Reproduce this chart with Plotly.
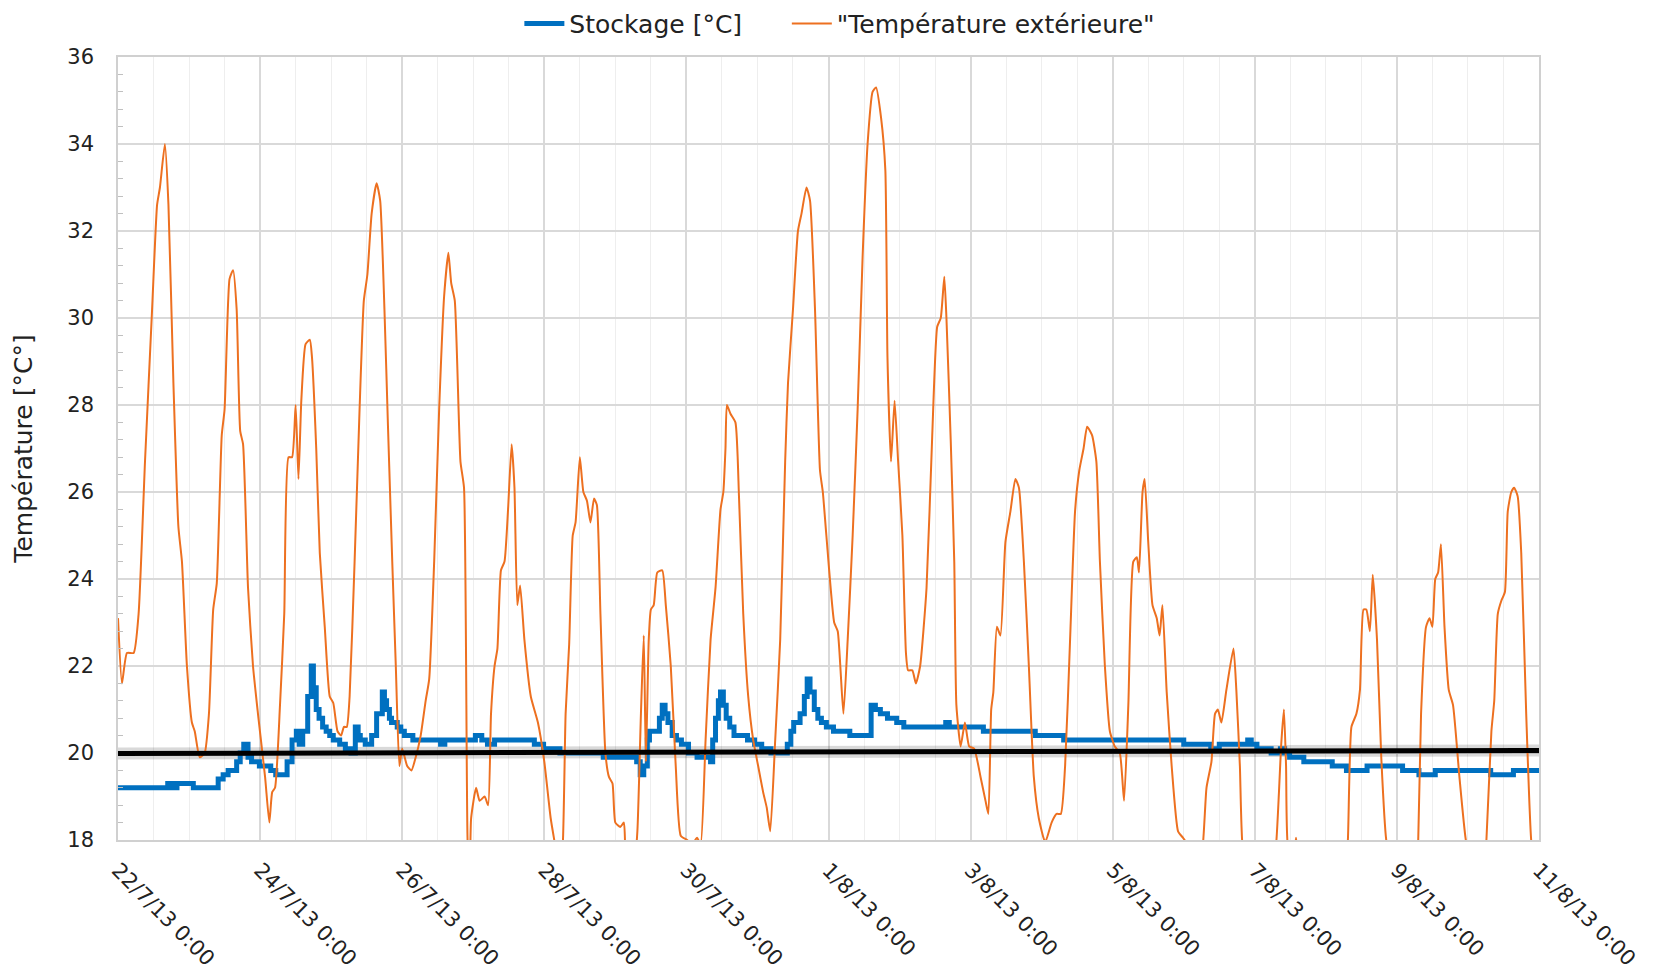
import pandas as pd
import plotly.graph_objects as go

start = pd.Timestamp("2013-07-22 00:00")

# outside temperature, time in days from 22/7/13 0:00
ext_days = [0, 0.056, 0.126, 0.22, 0.29, 0.38, 0.48, 0.55, 0.59, 0.66, 0.71, 0.78, 0.85, 0.9, 0.97,
            1.04, 1.08, 1.15, 1.22, 1.28, 1.34, 1.39, 1.46, 1.5, 1.57, 1.62, 1.67, 1.72, 1.76, 1.83, 1.9, 1.97,
            2.07, 2.13, 2.17, 2.21, 2.28, 2.34, 2.4, 2.45, 2.5, 2.54, 2.58, 2.64, 2.7, 2.73, 2.79, 2.84, 2.91, 2.98,
            3.03, 3.09, 3.14, 3.18, 3.22, 3.26, 3.33, 3.4, 3.46, 3.51, 3.57, 3.64, 3.69, 3.75, 3.8, 3.86, 3.91, 3.96,
            4.0, 4.07, 4.13, 4.19, 4.26, 4.33, 4.38, 4.45, 4.52, 4.59, 4.65, 4.69, 4.74, 4.82, 4.87, 4.92, 4.95, 4.97,
            5.04, 5.09, 5.16, 5.21, 5.25, 5.3, 5.34, 5.39, 5.44, 5.49, 5.54, 5.58, 5.62, 5.66, 5.72, 5.81, 5.91,
            6.0, 6.09, 6.16, 6.21, 6.26, 6.3, 6.35, 6.4, 6.44, 6.5, 6.55, 6.6, 6.65, 6.7, 6.74, 6.79, 6.86, 6.91, 6.96,
            7.0, 7.07, 7.12, 7.14, 7.2, 7.26, 7.31, 7.36, 7.4, 7.43, 7.47, 7.5, 7.54, 7.59, 7.66, 7.71, 7.78, 7.85, 7.92,
            8.01, 8.08, 8.15, 8.2, 8.27, 8.34, 8.41, 8.48, 8.52, 8.55, 8.57, 8.62, 8.69, 8.74, 8.8, 8.87, 8.94,
            9.01, 9.08, 9.13, 9.18, 9.25, 9.32, 9.39, 9.43, 9.5, 9.57, 9.62, 9.69, 9.74, 9.81, 9.88, 9.92, 9.97,
            10.08, 10.13, 10.21, 10.27, 10.34, 10.41, 10.48, 10.55, 10.62, 10.67, 10.74, 10.8, 10.83, 10.88, 10.93, 10.98,
            11.04, 11.09, 11.12, 11.18, 11.23, 11.29, 11.38, 11.46, 11.53, 11.58, 11.63, 11.66, 11.72, 11.77, 11.8, 11.86, 11.92, 11.98,
            12.05, 12.14, 12.21, 12.25, 12.29, 12.32, 12.37, 12.42, 12.49, 12.56, 12.63, 12.68, 12.75, 12.82, 12.89, 12.96,
            13.05, 13.14, 13.21, 13.27, 13.33, 13.4, 13.47, 13.53, 13.59, 13.64, 13.71, 13.77, 13.82, 13.89, 13.96,
            14.03, 14.1, 14.16, 14.22, 14.29, 14.34, 14.37, 14.42, 14.45, 14.5, 14.56, 14.62, 14.66, 14.7, 14.76, 14.83, 14.92, 14.99,
            15.05, 15.15, 15.25, 15.32, 15.39, 15.44, 15.48, 15.53, 15.6, 15.7, 15.74, 15.79, 15.83,
            16.0, 16.2, 16.3, 16.34, 16.37, 16.41, 16.44, 16.47, 16.55, 16.58, 16.62,
            17.0, 17.28, 17.31, 17.36, 17.43, 17.48, 17.53, 17.57, 17.62, 17.66, 17.72, 17.78, 17.85,
            18.0, 18.28, 18.3, 18.34, 18.41, 18.46, 18.5, 18.54, 18.58, 18.62, 18.67, 18.73, 18.79, 18.88, 18.97,
            19.1, 19.24, 19.26, 19.33, 19.37, 19.42, 19.47, 19.52, 19.56, 19.61, 19.65, 19.7, 19.75, 19.82, 19.89, 20.0]
ext_temp = [23.1, 21.6, 22.3, 22.3, 23.2, 26.7, 30.2, 32.6, 33.0, 34.0, 32.6, 28.5, 25.2, 24.4, 22.0,
            20.7, 20.5, 19.9, 20.0, 20.9, 23.3, 23.9, 27.3, 27.9, 30.9, 31.1, 30.2, 27.4, 27.1, 23.8, 22.0, 20.9,
            19.45, 18.4, 19.1, 19.2, 21.1, 23.2, 26.8, 26.8, 28.0, 26.3, 28.1, 29.4, 29.5, 29.1, 27.0, 24.6, 22.9, 21.3,
            21.15, 20.5, 20.4, 20.6, 20.6, 21.3, 24.4, 27.9, 30.4, 31.0, 32.4, 33.1, 32.7, 30.2, 27.5, 24.4, 22.0, 19.7,
            20.1, 19.7, 19.6, 19.9, 20.4, 21.2, 21.7, 24.4, 27.9, 30.5, 31.5, 30.8, 30.4, 26.7, 26.1, 18.0, 17.2, 18.5,
            19.2, 18.9, 19.0, 18.8, 20.9, 22.0, 22.4, 24.2, 24.4, 25.6, 27.1, 26.1, 23.4, 23.85, 22.6, 21.3, 20.7,
            19.8, 18.5, 17.8, 17.2, 17.9, 20.9, 22.5, 25.0, 25.3, 26.8, 26.0, 25.8, 25.3, 25.85, 25.7, 23.2, 20.0, 19.45, 19.3,
            18.4, 18.3, 18.4, 17.8, 17.0, 17.3, 18.2, 20.9, 22.7, 19.8, 22.6, 23.3, 23.4, 24.15, 24.2, 23.4, 22.0, 19.7, 18.1,
            18.0, 17.9, 18.05, 17.9, 20.3, 22.6, 23.8, 25.6, 26.0, 27.0, 28.0, 27.8, 27.6, 25.9, 23.2, 21.3, 20.3,
            19.7, 19.1, 18.75, 18.2, 20.3, 22.6, 26.7, 28.5, 30.2, 32.0, 32.4, 33.0, 32.7, 30.2, 26.5, 26.0, 25.0,
            23.0, 22.8, 20.9, 22.6, 25.0, 27.9, 31.4, 34.0, 35.2, 35.3, 34.6, 33.4, 29.1, 26.7, 28.1, 26.7,
            25.0, 22.3, 21.9, 21.9, 21.6, 22.0, 23.8, 27.3, 29.8, 30.0, 30.95, 30.0, 27.2, 24.4, 21.1, 20.15, 20.7, 20.15,
            20.1, 19.45, 18.9, 18.6, 21.0, 21.4, 22.9, 22.7, 24.85, 25.55, 26.3, 26.1, 24.4, 22.0, 19.45, 18.5,
            17.95, 18.4, 18.6, 18.6, 19.7, 22.6, 25.55, 26.5, 27.0, 27.5, 27.3, 26.7, 24.4, 22.0, 20.5,
            20.15, 20.0, 18.9, 21.1, 24.4, 24.5, 24.15, 26.0, 26.3, 24.85, 23.4, 23.1, 22.7, 23.4, 21.4, 19.7, 18.2, 18.05,
            17.9, 17.3, 17.6, 19.2, 19.8, 20.9, 21.0, 20.7, 21.45, 22.4, 21.45, 19.7, 17.8,
            16.5, 16.8, 17.9, 19.1, 20.15, 21.0, 19.7, 17.8, 17.6, 18.05, 17.5,
            16.5, 17.5, 18.0, 20.6, 20.9, 21.45, 23.3, 23.3, 22.8, 24.1, 22.6, 19.9, 18.0,
            16.8, 17.6, 18.0, 20.9, 22.9, 23.1, 22.9, 24.0, 24.15, 24.8, 22.9, 21.45, 21.1, 19.45, 18.0,
            17.0, 17.6, 18.0, 20.5, 21.2, 23.2, 23.5, 23.7, 25.55, 26.0, 26.1, 25.9, 24.6, 20.9, 18.0, 16.5]

# storage temperature
sto_days = [0, 0.70, 0.76, 0.83, 1.06, 1.41, 1.48, 1.55, 1.67, 1.72, 1.77, 1.83, 1.88, 1.99,
            2.15, 2.22, 2.38, 2.45, 2.51, 2.55, 2.6, 2.67, 2.72, 2.75, 2.79, 2.83, 2.88, 2.93, 2.98,
            3.03, 3.12, 3.2, 3.28, 3.34, 3.38, 3.41, 3.48, 3.57, 3.64, 3.72, 3.75, 3.78, 3.82, 3.85, 3.93, 3.98,
            4.03, 4.15, 4.54, 4.6, 5.03, 5.12, 5.2, 5.3, 5.86, 5.99, 6.22, 6.83,
            7.3, 7.35, 7.4, 7.45, 7.48, 7.58, 7.62, 7.66, 7.7, 7.74, 7.8, 7.86, 7.93,
            8.03, 8.15, 8.34, 8.37, 8.41, 8.45, 8.48, 8.52, 8.56, 8.61, 8.67, 8.86, 8.96,
            9.06, 9.19, 9.42, 9.47, 9.51, 9.6, 9.66, 9.7, 9.74, 9.8, 9.85, 9.9, 9.97,
            10.07, 10.3, 10.6, 10.66, 10.73, 10.83, 10.96, 11.06, 11.65, 11.7, 12.18, 12.91, 13.31,
            15.0, 15.38, 15.5, 15.9, 15.95, 16.03, 16.23, 16.36, 16.42, 16.49, 16.69,
            17.09, 17.29, 17.58, 18.08, 18.31, 18.54, 19.32, 19.64, 20.0]
sto_temp = [19.2, 19.3, 19.2, 19.3, 19.2, 19.4, 19.5, 19.6, 19.8, 20.0, 20.2, 19.9, 19.8, 19.7,
            19.6, 19.5, 19.8, 20.3, 20.5, 20.2, 20.5, 21.3, 22.0, 21.5, 21.0, 20.8, 20.6, 20.5, 20.4,
            20.3, 20.2, 20.1, 20.0, 20.6, 20.4, 20.3, 20.2, 20.4, 20.9, 21.4, 21.2, 21.0, 20.8, 20.7, 20.6, 20.5,
            20.4, 20.3, 20.2, 20.3, 20.4, 20.3, 20.2, 20.3, 20.2, 20.1, 20.0, 19.9,
            19.8, 19.5, 19.7, 20.3, 20.5, 20.5, 20.8, 21.1, 20.9, 20.7, 20.4, 20.3, 20.2,
            20.0, 19.9, 19.8, 20.3, 20.8, 21.2, 21.4, 21.1, 20.8, 20.6, 20.4, 20.3, 20.2,
            20.1, 20.0, 20.2, 20.5, 20.7, 20.9, 21.3, 21.7, 21.4, 21.0, 20.8, 20.7, 20.6,
            20.5, 20.4, 21.1, 21.0, 20.9, 20.8, 20.7, 20.6, 20.7, 20.6, 20.5, 20.4, 20.3,
            20.2, 20.1, 20.2, 20.3, 20.2, 20.1, 20.0, 20.1, 20.0, 19.9, 19.8,
            19.7, 19.6, 19.7, 19.6, 19.5, 19.6, 19.5, 19.6, 19.6]

# reference line (trend)
ref_days = [0, 20]
ref_temp = [19.99, 20.06]

to_dt = lambda d: [start + pd.Timedelta(days=x) for x in d]

font = "DejaVu Sans"
pad = "\u00a0" * 5   # extra room between the two legend entries
fig = go.Figure()

# soft shadow under the black line
fig.add_trace(go.Scatter(x=to_dt(ref_days), y=ref_temp, mode="lines", showlegend=False,
                         line=dict(color="rgba(0,0,0,0.15)", width=12), hoverinfo="skip"))
fig.add_trace(go.Scatter(x=to_dt(sto_days), y=sto_temp, mode="lines", name="Stockage [°C]" + pad,
                         line=dict(color="#0070C0", width=5, shape="hv")))
fig.add_trace(go.Scatter(x=to_dt(ext_days), y=ext_temp, mode="lines", name='"Température extérieure"',
                         line=dict(color="#ED7020", width=2, shape="spline", smoothing=0.5)))
fig.add_trace(go.Scatter(x=to_dt(ref_days), y=ref_temp, mode="lines", showlegend=False,
                         line=dict(color="black", width=5)))

fig.update_layout(
    width=1662, height=980,
    margin=dict(l=110, r=131, t=49, b=148, autoexpand=False),
    plot_bgcolor="white", paper_bgcolor="white",
    font=dict(family=font, size=21, color="#222222"),
    showlegend=True,
    legend=dict(orientation="h", x=0.508, xanchor="center", xref="paper",
                y=0.984, yanchor="middle", yref="container",
                font=dict(size=25), itemwidth=40, traceorder="normal"),
)

fig.update_xaxes(
    range=[start, start + pd.Timedelta(days=20)],
    dtick=2 * 86400000, tick0=start, tickformat="%-d/%-m/%y %-H:%M", tickangle=45,
    showgrid=True, gridcolor="#d9d9d9", gridwidth=1.5,
    minor=dict(dtick=43200000, showgrid=True, gridcolor="#eeeeee", gridwidth=1),
    showline=True, linecolor="#d0d0d0", linewidth=1.5, mirror=True,
    ticks="", ticklabelstandoff=8,
    tickfont=dict(size=21),
)

fig.update_yaxes(
    range=[18, 36], dtick=2,
    showgrid=True, gridcolor="#d9d9d9", gridwidth=1.5,
    minor=dict(dtick=0.4, ticks="inside", ticklen=5, tickcolor="#c0c0c0", showgrid=False),
    showline=True, linecolor="#d0d0d0", linewidth=1.5, mirror=True,
    ticks="", ticklabelstandoff=18,
    title=dict(text="Température [°C°]", font=dict(size=25), standoff=28),
    tickfont=dict(size=21),
    zeroline=False,
)

fig.write_html("out.html")
